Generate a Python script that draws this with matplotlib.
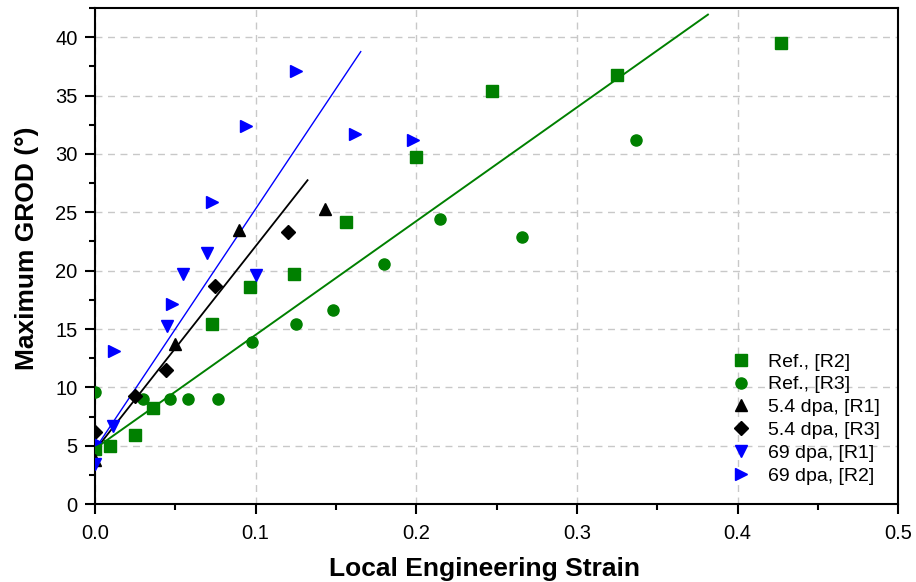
import matplotlib
matplotlib.use("Agg")
import matplotlib.pyplot as plt
import numpy as np
from matplotlib.ticker import MultipleLocator, FormatStrFormatter

plt.rcParams['font.family'] = ['Liberation Sans', 'DejaVu Sans']

# ---- data ----
ref_r2_x = [0.0, 0.0093, 0.0248, 0.036, 0.073, 0.0964, 0.124, 0.156, 0.1995, 0.247, 0.325, 0.427]
ref_r2_y = [4.7, 5.0, 5.94, 8.2, 15.4, 18.6, 19.7, 24.2, 29.7, 35.4, 36.8, 39.5]

ref_r3_x = [0.0, 0.0296, 0.0465, 0.058, 0.0765, 0.098, 0.125, 0.148, 0.180, 0.2146, 0.266, 0.337]
ref_r3_y = [9.6, 9.0, 9.0, 9.0, 9.0, 13.9, 15.4, 16.6, 20.6, 24.4, 22.9, 31.2]

d54_r1_x = [0.0, 0.0496, 0.0895, 0.143]
d54_r1_y = [3.8, 13.7, 23.5, 25.3]

d54_r3_x = [0.0, 0.025, 0.0445, 0.0744, 0.120]
d54_r3_y = [6.2, 9.3, 11.5, 18.7, 23.3]

d69_r1_x = [0.0, 0.011, 0.045, 0.055, 0.070, 0.100]
d69_r1_y = [3.4, 6.7, 15.3, 19.7, 21.5, 19.6]

d69_r2_x = [0.0, 0.012, 0.048, 0.073, 0.094, 0.125, 0.162, 0.198]
d69_r2_y = [5.35, 13.1, 17.1, 25.9, 32.4, 37.1, 31.7, 31.2]

# linear fits: intercept, slope, x-end
fit_ref = (4.75, 97.5, 0.3815)
fit_54 = (4.6, 175.0, 0.1323)
fit_69 = (4.7, 206.0, 0.1654)

labels = ["Ref., [R2]", "Ref., [R3]", "5.4 dpa, [R1]", "5.4 dpa, [R3]",
          "69 dpa, [R1]", "69 dpa, [R2]"]

green = '#008000'
blue = '#0000FF'

fig = plt.figure(figsize=(9.16, 5.82), dpi=100)
ax = fig.add_axes([0.1037, 0.134, 0.877, 0.852])

ax.grid(True, which='major', color='#c8c8c8', linestyle=(0, (5, 4)), linewidth=1.0, zorder=0)
ax.set_axisbelow(True)

# fit lines
for (b, m, xe), c, lw in [(fit_ref, green, 1.4), (fit_54, 'black', 1.3), (fit_69, blue, 1.0)]:
    xs = np.array([0.0, xe])
    ax.plot(xs, b + m * xs, color=c, lw=lw, zorder=2)

ax.plot(ref_r2_x, ref_r2_y, ls='none', marker='s', ms=8, color=green, label=labels[0], zorder=3)
ax.plot(ref_r3_x, ref_r3_y, ls='none', marker='o', ms=8, color=green, label=labels[1], zorder=3)
ax.plot(d54_r1_x, d54_r1_y, ls='none', marker='^', ms=9, color='black', label=labels[2], zorder=3)
ax.plot(d54_r3_x, d54_r3_y, ls='none', marker='D', ms=7.5, color='black', label=labels[3], zorder=3)
ax.plot(d69_r1_x, d69_r1_y, ls='none', marker='v', ms=9, color=blue, label=labels[4], zorder=3)
ax.plot(d69_r2_x, d69_r2_y, ls='none', marker='>', ms=9, color=blue, label=labels[5], zorder=3)

ax.set_xlim(0, 0.5)
ax.set_ylim(0, 42.5)
ax.xaxis.set_major_locator(MultipleLocator(0.1))
ax.xaxis.set_minor_locator(MultipleLocator(0.05))
ax.yaxis.set_major_locator(MultipleLocator(5))
ax.yaxis.set_minor_locator(MultipleLocator(2.5))
ax.xaxis.set_major_formatter(FormatStrFormatter('%.1f'))
ax.tick_params(which='major', direction='out', length=7.5, width=1.5, labelsize=14.5)
ax.tick_params(axis='x', which='major', pad=7)
ax.tick_params(axis='y', which='major', pad=5)
ax.tick_params(which='minor', direction='out', length=4, width=1.5)
for s in ax.spines.values():
    s.set_linewidth(1.5)

ax.set_xlabel("Local Engineering Strain", fontsize=19, fontweight='bold', labelpad=10)
ax.set_ylabel("Maximum GROD (°)", fontsize=19, fontweight='bold', labelpad=12)
ax.xaxis.label.set_x(0.485)
ax.yaxis.label.set_y(0.515)

leg = ax.legend(loc='lower left', bbox_to_anchor=(0.782, 0.023), frameon=False, fontsize=14,
                labelspacing=0.27, handlelength=1.0, handletextpad=0.9, borderaxespad=0.0)

fig.savefig("out.png", dpi=100)
